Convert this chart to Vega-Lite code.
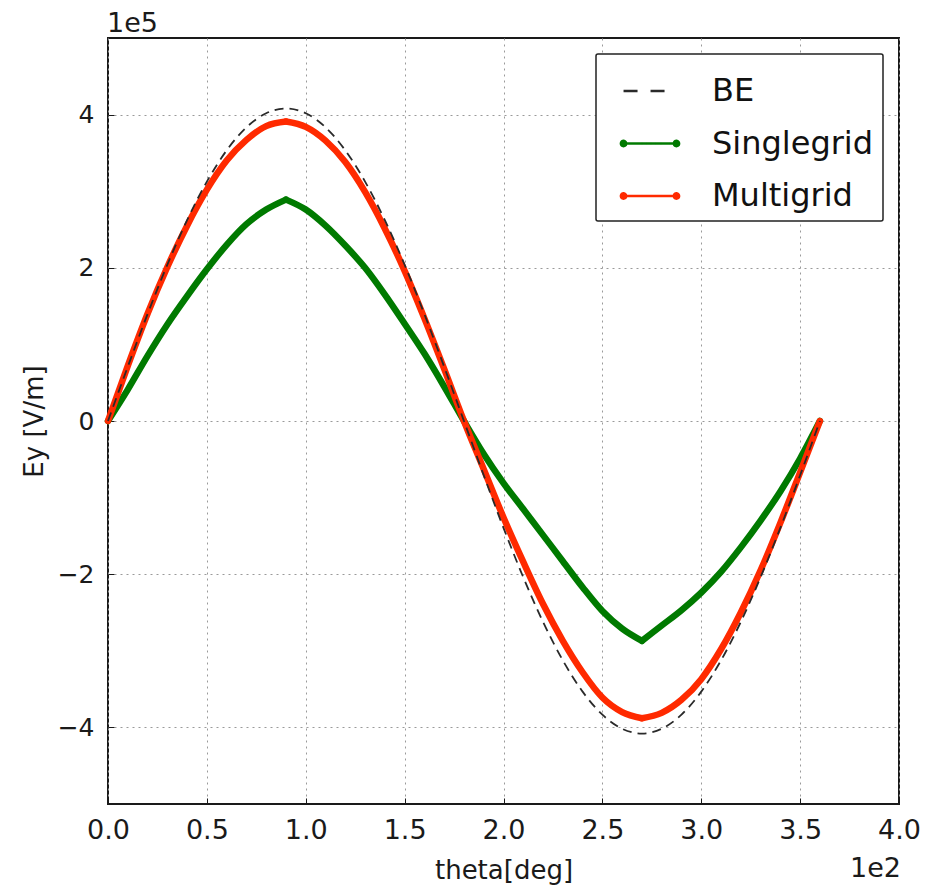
{
  "$schema": "https://vega.github.io/schema/vega-lite/v6.json",
  "width": 791,
  "height": 766,
  "autosize": {"type": "none"},
  "padding": {"left": 108, "top": 38, "right": 35, "bottom": 85},
  "background": "white",
  "config": {
    "font": "DejaVu Sans",
    "view": {"stroke": "#1a1a1a", "strokeWidth": 2},
    "axis": {
      "domain": false,
      "labelFont": "DejaVu Sans",
      "titleFont": "DejaVu Sans",
      "labelColor": "#1a1a1a",
      "titleColor": "#1a1a1a",
      "titleFontWeight": "normal",
      "gridColor": "#9a9a9a",
      "gridDash": [2, 4],
      "gridWidth": 1,
      "tickColor": "#1a1a1a",
      "tickSize": -6,
      "tickWidth": 1,
      "labelFlush": false,
      "labelOverlap": false,
      "labelBound": false
    },
    "legend": {
      "symbolSize": 2800,
      "symbolStrokeWidth": 2.5,
      "labelFont": "DejaVu Sans",
      "labelFontSize": 32,
      "labelColor": "#111111",
      "labelOffset": 34,
      "labelLimit": 500,
      "padding": 9,
      "symbolOffset": 17,
      "rowPadding": 8.5,
      "strokeColor": "#222222",
      "strokeWidth": 1.5,
      "fillColor": "white",
      "cornerRadius": 2
    }
  },
  "datasets": {
    "curves": [
      {"theta": 0, "Ey": 0, "series": "BE", "part": "a"},
      {"theta": 10, "Ey": 70800, "series": "BE", "part": "a"},
      {"theta": 20, "Ey": 139500, "series": "BE", "part": "a"},
      {"theta": 30, "Ey": 204000, "series": "BE", "part": "a"},
      {"theta": 40, "Ey": 262300, "series": "BE", "part": "a"},
      {"theta": 50, "Ey": 312500, "series": "BE", "part": "a"},
      {"theta": 60, "Ey": 353300, "series": "BE", "part": "a"},
      {"theta": 70, "Ey": 383400, "series": "BE", "part": "a"},
      {"theta": 80, "Ey": 401800, "series": "BE", "part": "a"},
      {"theta": 90, "Ey": 408000, "series": "BE", "part": "a"},
      {"theta": 100, "Ey": 401800, "series": "BE", "part": "a"},
      {"theta": 110, "Ey": 383400, "series": "BE", "part": "a"},
      {"theta": 120, "Ey": 353300, "series": "BE", "part": "a"},
      {"theta": 130, "Ey": 312500, "series": "BE", "part": "a"},
      {"theta": 140, "Ey": 262300, "series": "BE", "part": "a"},
      {"theta": 150, "Ey": 204000, "series": "BE", "part": "a"},
      {"theta": 160, "Ey": 139500, "series": "BE", "part": "a"},
      {"theta": 170, "Ey": 70800, "series": "BE", "part": "a"},
      {"theta": 180, "Ey": 0, "series": "BE", "part": "a"},
      {"theta": 190, "Ey": -70800, "series": "BE", "part": "a"},
      {"theta": 200, "Ey": -139500, "series": "BE", "part": "a"},
      {"theta": 210, "Ey": -204000, "series": "BE", "part": "a"},
      {"theta": 220, "Ey": -262300, "series": "BE", "part": "a"},
      {"theta": 230, "Ey": -312500, "series": "BE", "part": "a"},
      {"theta": 240, "Ey": -353300, "series": "BE", "part": "a"},
      {"theta": 250, "Ey": -383400, "series": "BE", "part": "a"},
      {"theta": 260, "Ey": -401800, "series": "BE", "part": "a"},
      {"theta": 270, "Ey": -408000, "series": "BE", "part": "a"},
      {"theta": 280, "Ey": -401800, "series": "BE", "part": "a"},
      {"theta": 290, "Ey": -383400, "series": "BE", "part": "a"},
      {"theta": 300, "Ey": -353300, "series": "BE", "part": "a"},
      {"theta": 310, "Ey": -312500, "series": "BE", "part": "a"},
      {"theta": 320, "Ey": -262300, "series": "BE", "part": "a"},
      {"theta": 330, "Ey": -204000, "series": "BE", "part": "a"},
      {"theta": 340, "Ey": -139500, "series": "BE", "part": "a"},
      {"theta": 350, "Ey": -70800, "series": "BE", "part": "a"},
      {"theta": 360, "Ey": 0, "series": "BE", "part": "a"},
      {"theta": 0, "Ey": 0, "series": "Singlegrid", "part": "a"},
      {"theta": 10, "Ey": 41000, "series": "Singlegrid", "part": "a"},
      {"theta": 20, "Ey": 85000, "series": "Singlegrid", "part": "a"},
      {"theta": 30, "Ey": 126000, "series": "Singlegrid", "part": "a"},
      {"theta": 40, "Ey": 163000, "series": "Singlegrid", "part": "a"},
      {"theta": 50, "Ey": 198000, "series": "Singlegrid", "part": "a"},
      {"theta": 60, "Ey": 230000, "series": "Singlegrid", "part": "a"},
      {"theta": 70, "Ey": 257000, "series": "Singlegrid", "part": "a"},
      {"theta": 80, "Ey": 276000, "series": "Singlegrid", "part": "a"},
      {"theta": 90, "Ey": 289000, "series": "Singlegrid", "part": "a"},
      {"theta": 90, "Ey": 289000, "series": "Singlegrid", "part": "b"},
      {"theta": 100, "Ey": 276000, "series": "Singlegrid", "part": "b"},
      {"theta": 110, "Ey": 255000, "series": "Singlegrid", "part": "b"},
      {"theta": 120, "Ey": 229000, "series": "Singlegrid", "part": "b"},
      {"theta": 130, "Ey": 200000, "series": "Singlegrid", "part": "b"},
      {"theta": 140, "Ey": 165000, "series": "Singlegrid", "part": "b"},
      {"theta": 150, "Ey": 127000, "series": "Singlegrid", "part": "b"},
      {"theta": 160, "Ey": 88000, "series": "Singlegrid", "part": "b"},
      {"theta": 170, "Ey": 45000, "series": "Singlegrid", "part": "b"},
      {"theta": 180, "Ey": 0, "series": "Singlegrid", "part": "b"},
      {"theta": 190, "Ey": -43000, "series": "Singlegrid", "part": "b"},
      {"theta": 200, "Ey": -81000, "series": "Singlegrid", "part": "b"},
      {"theta": 210, "Ey": -115000, "series": "Singlegrid", "part": "b"},
      {"theta": 220, "Ey": -149000, "series": "Singlegrid", "part": "b"},
      {"theta": 230, "Ey": -183000, "series": "Singlegrid", "part": "b"},
      {"theta": 240, "Ey": -217000, "series": "Singlegrid", "part": "b"},
      {"theta": 250, "Ey": -248000, "series": "Singlegrid", "part": "b"},
      {"theta": 260, "Ey": -271000, "series": "Singlegrid", "part": "b"},
      {"theta": 270, "Ey": -287000, "series": "Singlegrid", "part": "b"},
      {"theta": 270, "Ey": -287000, "series": "Singlegrid", "part": "c"},
      {"theta": 280, "Ey": -267000, "series": "Singlegrid", "part": "c"},
      {"theta": 290, "Ey": -247000, "series": "Singlegrid", "part": "c"},
      {"theta": 300, "Ey": -224000, "series": "Singlegrid", "part": "c"},
      {"theta": 310, "Ey": -197000, "series": "Singlegrid", "part": "c"},
      {"theta": 320, "Ey": -165000, "series": "Singlegrid", "part": "c"},
      {"theta": 330, "Ey": -130000, "series": "Singlegrid", "part": "c"},
      {"theta": 340, "Ey": -92000, "series": "Singlegrid", "part": "c"},
      {"theta": 350, "Ey": -49000, "series": "Singlegrid", "part": "c"},
      {"theta": 360, "Ey": 0, "series": "Singlegrid", "part": "c"},
      {"theta": 0, "Ey": 0, "series": "Multigrid", "part": "a"},
      {"theta": 10, "Ey": 72000, "series": "Multigrid", "part": "a"},
      {"theta": 20, "Ey": 140000, "series": "Multigrid", "part": "a"},
      {"theta": 30, "Ey": 201000, "series": "Multigrid", "part": "a"},
      {"theta": 40, "Ey": 255000, "series": "Multigrid", "part": "a"},
      {"theta": 50, "Ey": 302000, "series": "Multigrid", "part": "a"},
      {"theta": 60, "Ey": 340000, "series": "Multigrid", "part": "a"},
      {"theta": 70, "Ey": 367000, "series": "Multigrid", "part": "a"},
      {"theta": 80, "Ey": 385000, "series": "Multigrid", "part": "a"},
      {"theta": 90, "Ey": 391000, "series": "Multigrid", "part": "a"},
      {"theta": 90, "Ey": 391000, "series": "Multigrid", "part": "b"},
      {"theta": 100, "Ey": 384000, "series": "Multigrid", "part": "b"},
      {"theta": 110, "Ey": 366000, "series": "Multigrid", "part": "b"},
      {"theta": 120, "Ey": 338000, "series": "Multigrid", "part": "b"},
      {"theta": 130, "Ey": 299000, "series": "Multigrid", "part": "b"},
      {"theta": 140, "Ey": 251000, "series": "Multigrid", "part": "b"},
      {"theta": 150, "Ey": 196000, "series": "Multigrid", "part": "b"},
      {"theta": 160, "Ey": 134000, "series": "Multigrid", "part": "b"},
      {"theta": 170, "Ey": 68000, "series": "Multigrid", "part": "b"},
      {"theta": 180, "Ey": 0, "series": "Multigrid", "part": "b"},
      {"theta": 190, "Ey": -63000, "series": "Multigrid", "part": "b"},
      {"theta": 200, "Ey": -126000, "series": "Multigrid", "part": "b"},
      {"theta": 210, "Ey": -184000, "series": "Multigrid", "part": "b"},
      {"theta": 220, "Ey": -239000, "series": "Multigrid", "part": "b"},
      {"theta": 230, "Ey": -287000, "series": "Multigrid", "part": "b"},
      {"theta": 240, "Ey": -328000, "series": "Multigrid", "part": "b"},
      {"theta": 250, "Ey": -361000, "series": "Multigrid", "part": "b"},
      {"theta": 260, "Ey": -380000, "series": "Multigrid", "part": "b"},
      {"theta": 270, "Ey": -388000, "series": "Multigrid", "part": "b"},
      {"theta": 270, "Ey": -388000, "series": "Multigrid", "part": "c"},
      {"theta": 280, "Ey": -381000, "series": "Multigrid", "part": "c"},
      {"theta": 290, "Ey": -364000, "series": "Multigrid", "part": "c"},
      {"theta": 300, "Ey": -337000, "series": "Multigrid", "part": "c"},
      {"theta": 310, "Ey": -298000, "series": "Multigrid", "part": "c"},
      {"theta": 320, "Ey": -250000, "series": "Multigrid", "part": "c"},
      {"theta": 330, "Ey": -195000, "series": "Multigrid", "part": "c"},
      {"theta": 340, "Ey": -133000, "series": "Multigrid", "part": "c"},
      {"theta": 350, "Ey": -67000, "series": "Multigrid", "part": "c"},
      {"theta": 360, "Ey": 0, "series": "Multigrid", "part": "c"}
    ]
  },
  "data": {"name": "curves"},
  "encoding": {
    "x": {
      "field": "theta",
      "type": "quantitative",
      "scale": {"domain": [0, 400], "nice": false, "zero": false},
      "axis": {
        "title": "theta[deg]",
        "titleFontSize": 26,
        "titlePadding": 14,
        "labelFontSize": 27,
        "labelPadding": 19,
        "values": [0, 50, 100, 150, 200, 250, 300, 350, 400],
        "labelExpr": "format(datum.value / 100, '.1f')"
      }
    },
    "y": {
      "field": "Ey",
      "type": "quantitative",
      "scale": {"domain": [-500000, 500000], "nice": false, "zero": false},
      "axis": {
        "title": "Ey [V/m]",
        "titleFontSize": 26,
        "titlePadding": 10,
        "labelFontSize": 25,
        "labelPadding": 20,
        "values": [-400000, -200000, 0, 200000, 400000],
        "labelExpr": "format(datum.value / 100000, 'd')"
      }
    }
  },
  "layer": [
    {
      "transform": [{"filter": "datum.series === 'Singlegrid'"}],
      "mark": {"type": "line", "strokeWidth": 6.5, "strokeCap": "round", "strokeJoin": "round", "interpolate": "monotone"},
      "encoding": {
        "detail": {"field": "part", "type": "nominal"},
        "color": {
          "field": "series",
          "type": "nominal",
          "scale": {"domain": ["BE", "Singlegrid", "Multigrid"], "range": ["#2a2a2a", "#007a00", "#ff2a00"]},
          "legend": {
            "title": null,
            "orient": "top-right",
            "offset": 16,
            "labelExpr": "datum.label + '\u00a0'",
            "encode": {
              "symbols": {
                "update": {
                  "shape": {"signal": "datum.value === 'BE' ? 'stroke' : 'M-1,0L1,0M-1.1,0A0.1,0.1,0,1,0,-0.9,0A0.1,0.1,0,1,0,-1.1,0ZM0.9,0A0.1,0.1,0,1,0,1.1,0A0.1,0.1,0,1,0,0.9,0Z'"},
                  "fill": {"signal": "datum.value === 'BE' ? 'transparent' : scale('color', datum.value)"},
                  "stroke": {"signal": "scale('color', datum.value)"},
                  "strokeDash": {"signal": "datum.value === 'BE' ? [14, 13] : [1, 0]"},
                  "strokeWidth": {"value": 2.5},
                  "opacity": {"value": 1}
                }
              }
            }
          }
        }
      }
    },
    {
      "transform": [{"filter": "datum.series === 'Multigrid'"}],
      "mark": {"type": "line", "strokeWidth": 6.5, "strokeCap": "round", "strokeJoin": "round", "interpolate": "monotone"},
      "encoding": {
        "detail": {"field": "part", "type": "nominal"},
        "color": {
          "field": "series",
          "type": "nominal",
          "scale": {"domain": ["BE", "Singlegrid", "Multigrid"], "range": ["#2a2a2a", "#007a00", "#ff2a00"]}
        }
      }
    },
    {
      "transform": [{"filter": "datum.series === 'BE'"}],
      "mark": {"type": "line", "strokeWidth": 1.8, "strokeDash": [9, 6], "interpolate": "monotone"},
      "encoding": {
        "color": {
          "field": "series",
          "type": "nominal",
          "scale": {"domain": ["BE", "Singlegrid", "Multigrid"], "range": ["#2a2a2a", "#007a00", "#ff2a00"]}
        }
      }
    },
    {
      "data": {"values": [{"theta": 0, "Ey": 500000, "t": "1e5"}]},
      "mark": {"type": "text", "align": "left", "baseline": "alphabetic", "dy": -6, "dx": -1, "fontSize": 27, "font": "DejaVu Sans", "color": "#1a1a1a"},
      "encoding": {"text": {"field": "t"}}
    },
    {
      "data": {"values": [{"theta": 400, "Ey": -500000, "t": "1e2"}]},
      "mark": {"type": "text", "align": "right", "baseline": "alphabetic", "dy": 73, "dx": 2, "fontSize": 27, "font": "DejaVu Sans", "color": "#1a1a1a"},
      "encoding": {"text": {"field": "t"}}
    }
  ]
}
